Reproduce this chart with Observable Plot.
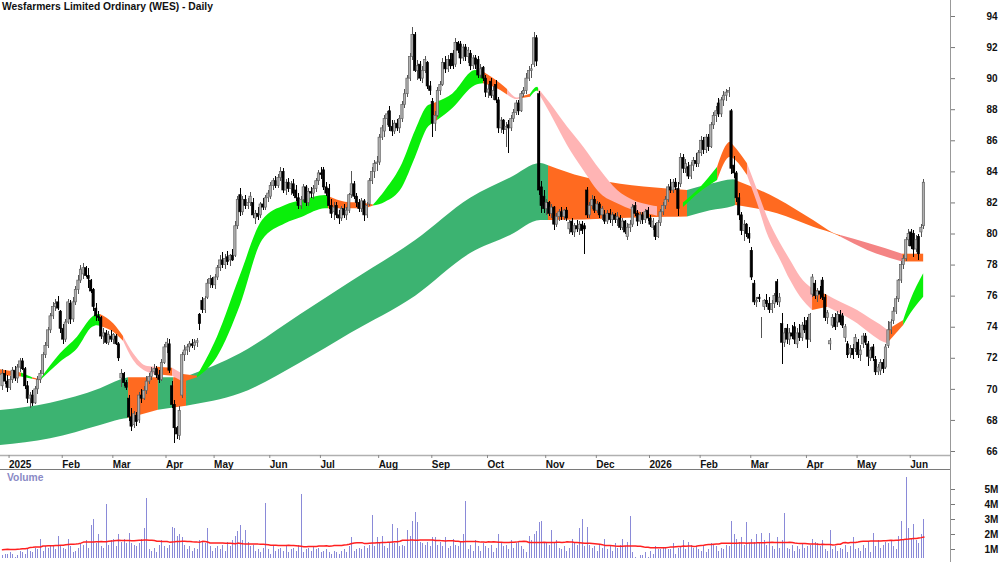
<!DOCTYPE html>
<html><head><meta charset="utf-8">
<script src="https://cdn.jsdelivr.net/npm/d3@7"></script>
<script src="https://cdn.jsdelivr.net/npm/@observablehq/plot@0.6"></script>
<style>
html,body{margin:0;padding:0;background:#fff;}
#wrap{position:relative;width:1000px;height:562px;overflow:hidden;font-family:"Liberation Sans",Arial,sans-serif;}
#wrap svg{display:block;}
#title{position:absolute;left:2px;top:1px;font-weight:bold;font-size:10.3px;color:#111;white-space:nowrap;}
#vlabel{position:absolute;left:7px;top:472px;font-weight:bold;font-size:10.3px;color:#8a8ac6;}
#sep{height:1px;width:951px;background:#7a7a7a;}
#axisline{position:absolute;left:950px;top:0;width:1px;height:562px;background:#999;}
</style></head>
<body>
<div id="wrap">
  <div id="price"></div>
  <div id="sep"></div>
  <div id="vol"></div>
  <div id="title">Wesfarmers Limited Ordinary (WES) - Daily</div>
  <div id="vlabel">Volume</div>
  <div id="axisline"></div>
</div>
<script>
// ---------- DATA ----------
const holidays = ["2025-01-01","2025-01-27","2025-04-18","2025-04-21","2025-04-25","2025-06-09","2025-12-25","2025-12-26","2026-01-01","2026-01-26","2026-04-03","2026-04-06","2026-06-08"];

const open = [
70.2,71.0,70.5,70.1,70.6,71.2,70.7,71.4,71.8,71.3,
70.2,69.4,69.6,69.1,70.0,70.6,71.0,72.2,72.8,73.8,
74.7,75.3,75.6,75.0,73.9,73.2,74.3,75.5,74.5,75.6,
76.4,77.0,77.4,77.8,77.3,77.0,76.4,75.2,74.7,74.6,
73.4,73.6,73.0,73.4,73.2,73.4,72.9,70.7,71.0,70.4,
69.4,68.2,67.7,68.3,68.0,69.6,69.4,69.9,70.5,70.8,
71.1,71.3,70.9,70.6,71.7,72.7,72.9,70.2,69.0,67.5,
67.0,69.6,72.2,72.5,72.7,72.9,72.8,73.0,74.8,75.7,
75.1,75.9,76.8,77.1,76.7,77.2,77.8,78.3,78.0,78.5,
78.3,78.6,78.6,80.5,82.5,81.4,82.2,81.8,82.0,82.0,
81.0,81.3,81.2,81.9,81.7,82.3,82.4,83.1,83.4,83.1,
83.6,84.0,82.8,83.3,82.9,83.2,82.8,82.3,81.8,82.2,
83.0,82.0,82.7,82.6,82.9,83.4,83.9,84.1,83.0,82.9,
81.8,81.4,81.8,81.2,81.0,81.6,81.2,81.5,82.5,83.2,
82.4,82.0,81.6,82.1,81.2,81.9,83.4,84.0,84.5,84.6,
86.2,86.6,87.4,87.9,86.9,86.6,87.1,86.8,87.4,88.3,
89.0,90.0,91.4,92.8,90.5,90.9,90.0,90.5,91.0,89.5,
88.5,87.1,87.6,89.2,89.6,91.0,90.6,91.2,91.6,90.9,
92.3,92.2,91.3,92.0,91.4,91.6,90.8,91.3,91.2,90.2,
90.7,90.0,89.1,89.8,88.9,89.6,88.6,86.8,87.3,86.7,
87.0,86.8,87.4,87.8,88.4,87.9,89.0,89.2,90.0,90.5,
90.9,92.6,89.0,83.0,82.4,81.6,82.0,81.3,81.7,80.6,
81.1,81.4,81.1,81.5,80.3,80.8,80.1,80.5,80.3,80.6,
80.5,82.8,81.2,81.8,82.2,81.5,81.9,81.2,81.2,80.8,
81.3,80.9,81.2,80.9,81.0,80.4,80.8,79.8,80.4,80.6,
81.8,81.3,80.8,81.2,80.9,81.5,81.0,80.4,80.5,79.8,
80.7,81.4,81.8,82.2,83.0,82.8,83.3,82.9,83.2,84.9,
84.2,84.3,83.7,84.4,84.7,84.5,85.2,86.0,85.4,86.2,
85.6,87.0,87.6,88.4,87.7,88.6,88.9,89.1,87.9,84.4,
83.9,82.3,81.2,80.2,80.6,80.0,78.9,76.8,75.6,75.9,
74.0,75.3,75.7,75.5,75.1,75.5,76.9,75.6,74.2,73.0,
73.9,73.2,73.6,74.0,72.9,73.6,73.3,74.1,74.4,73.2,
76.1,76.8,76.0,76.3,77.0,75.9,74.6,72.9,74.1,74.6,
74.3,74.8,74.7,73.3,72.9,72.3,72.6,72.6,73.0,72.2,
72.9,73.4,72.9,72.0,72.7,71.9,71.1,71.2,71.7,71.4,
72.8,73.8,74.4,75.0,75.8,77.0,78.0,78.4,79.6,80.1,
80.0,79.0,79.8,80.1,80.5];

const high = [
71.3,71.2,70.9,70.8,71.4,71.5,71.6,72.0,72.0,71.4,
70.5,69.8,69.9,70.2,70.8,71.2,72.4,73.0,74.0,74.9,
75.6,75.8,76.0,75.1,74.2,74.5,75.8,75.7,75.9,76.6,
77.3,78.0,78.1,77.9,77.8,77.1,76.5,75.5,75.0,74.7,
73.9,73.8,73.7,73.8,73.6,73.5,73.0,71.3,71.1,70.6,
69.6,68.8,68.6,68.5,69.8,70.0,70.2,70.8,71.0,71.4,
71.6,71.5,71.2,71.9,72.9,73.3,73.2,70.5,69.3,67.6,
68.9,72.4,72.8,72.9,73.1,73.2,73.2,73.3,74.9,75.9,
76.0,77.1,77.3,77.2,77.4,78.0,78.6,78.8,78.7,78.9,
78.7,79.0,80.8,82.4,82.9,82.4,82.5,82.3,82.7,82.3,
81.5,81.7,82.0,82.3,82.5,82.8,83.3,83.6,83.7,83.8,
84.3,84.2,83.5,83.6,83.4,83.5,83.1,82.6,82.4,83.2,
83.1,82.9,83.0,83.1,83.6,84.1,84.3,84.3,83.3,83.2,
82.2,82.0,82.0,81.5,81.8,81.9,81.7,82.6,84.0,83.4,
82.6,82.2,82.3,82.2,82.0,83.6,84.3,84.7,85.0,86.4,
87.0,87.6,87.9,88.2,87.3,87.3,87.4,87.6,88.5,89.3,
90.2,91.6,93.3,93.0,91.2,91.1,90.8,91.4,91.1,89.8,
88.7,87.9,89.4,89.8,91.3,91.4,91.5,91.6,91.8,92.6,
92.4,92.4,92.2,92.2,92.0,91.8,91.5,91.5,91.4,90.9,
90.8,90.2,89.6,90.0,89.5,89.9,88.8,87.5,87.4,87.2,
87.3,87.6,88.0,88.6,88.6,89.2,89.4,90.3,90.8,90.9,
93.0,92.8,89.2,83.4,82.8,82.2,82.1,81.9,81.8,81.3,
81.6,81.7,81.6,81.7,80.9,81.0,80.7,80.9,80.8,80.8,
80.7,83.0,82.0,82.5,82.4,82.1,82.0,81.8,81.5,81.5,
81.6,81.4,81.3,81.4,81.2,81.0,80.9,80.7,80.9,81.9,
82.0,81.5,81.4,81.4,81.6,81.7,81.2,81.0,80.7,80.9,
81.6,82.0,82.4,83.2,83.5,83.5,83.6,83.3,85.2,85.1,
84.8,84.6,84.6,84.9,85.2,85.4,86.3,86.2,86.4,86.4,
87.2,87.8,88.2,88.7,88.8,89.2,89.3,89.4,88.0,85.0,
84.0,82.6,81.4,80.9,80.7,80.4,79.1,77.0,75.9,76.1,
74.6,75.8,76.1,75.9,75.7,76.2,77.1,76.2,74.9,73.9,
74.2,73.9,74.1,74.3,73.9,74.2,74.3,74.6,74.6,74.9,
77.4,77.0,76.5,76.6,77.2,76.1,75.1,73.3,74.8,74.9,
75.0,75.1,74.9,74.2,73.1,72.8,72.9,73.5,73.2,72.8,
73.6,73.6,73.1,72.7,72.9,72.1,71.6,71.9,71.9,72.9,
74.4,74.5,75.3,76.0,77.1,78.2,78.6,79.8,80.3,80.3,
80.2,79.9,80.0,80.6,83.5];

const low = [
69.9,70.3,69.8,69.9,70.4,70.5,70.4,71.1,71.2,70.0,
69.1,68.8,68.9,69.0,69.7,70.4,70.9,72.0,72.6,73.6,
74.5,75.0,75.1,73.6,72.9,73.0,74.2,74.2,74.3,75.4,
76.1,76.8,77.1,77.2,76.5,76.2,75.0,74.4,74.4,73.2,
72.9,72.9,72.8,73.0,72.9,72.8,71.8,70.1,70.2,69.9,
67.9,67.3,67.5,67.6,67.8,69.1,69.3,69.7,70.3,70.6,
70.9,70.7,70.4,70.5,71.6,72.3,71.0,68.8,66.5,66.8,
66.7,69.4,71.8,72.2,72.4,72.6,72.5,72.7,73.8,74.9,
74.9,75.8,76.5,76.5,76.4,77.0,77.6,77.8,77.7,78.0,
77.9,78.2,78.5,80.3,81.1,81.2,81.6,81.6,81.8,81.0,
80.6,80.9,81.0,81.5,81.5,82.0,82.2,82.8,82.9,82.9,
83.4,82.6,82.5,82.7,82.5,82.4,82.1,81.6,81.6,82.0,
81.8,81.8,82.3,82.2,82.7,83.1,83.5,82.8,82.4,81.6,
81.0,80.9,81.0,80.6,80.8,81.0,80.9,81.3,82.3,82.2,
81.7,81.4,81.4,80.8,81.0,81.8,83.2,83.6,84.0,84.4,
86.0,86.2,87.0,86.6,86.3,86.4,86.6,86.5,87.2,88.1,
88.8,89.8,91.2,90.4,89.9,89.8,89.7,90.3,89.3,88.9,
86.2,86.6,87.5,88.9,89.5,90.3,90.4,90.6,90.6,90.7,
91.6,90.9,91.1,91.1,91.0,90.5,90.6,90.6,90.0,90.0,
89.8,88.8,88.7,88.7,88.6,88.4,86.5,86.5,86.4,85.6,
85.2,86.6,87.2,87.6,87.6,87.8,88.8,89.0,89.8,90.0,
90.7,90.8,82.5,81.3,81.3,81.2,81.1,81.0,80.2,80.4,
80.8,80.9,80.9,80.8,80.0,79.9,79.8,80.1,79.9,80.0,
78.7,81.0,81.0,81.6,81.3,81.3,81.0,80.9,80.6,80.6,
80.7,80.5,80.7,80.5,80.2,80.2,80.0,79.6,80.1,80.4,
81.1,80.5,80.6,80.6,80.7,80.8,80.4,80.2,79.6,79.7,
80.5,81.2,81.6,82.0,82.6,82.6,82.8,81.1,83.0,83.9,
83.9,83.5,83.5,84.0,84.3,84.3,85.0,85.1,85.2,85.3,
85.5,86.7,87.2,87.5,87.5,88.2,88.5,88.8,83.8,83.6,
82.0,80.9,79.9,79.5,79.8,79.4,77.0,75.4,75.3,75.6,
73.3,75.1,75.3,74.9,74.9,75.2,75.4,75.3,71.6,72.7,
72.9,72.8,73.2,72.9,72.6,73.1,73.1,73.6,72.6,73.0,
75.9,75.8,75.6,75.8,75.7,74.4,74.2,72.5,73.9,73.8,
74.0,74.1,73.9,73.0,72.0,72.0,71.9,72.4,72.0,71.8,
72.6,72.8,71.5,71.8,71.8,70.9,70.9,70.9,71.0,71.3,
72.6,73.5,74.2,74.8,75.6,76.8,77.7,78.2,79.2,79.0,
78.5,78.8,78.3,79.8,80.3];

const close = [
71.0,70.5,70.1,70.6,71.2,70.7,71.4,71.8,71.3,70.2,
69.4,69.6,69.1,70.0,70.6,71.0,72.2,72.8,73.8,74.7,
75.3,75.5,75.2,73.9,73.2,74.3,75.6,74.5,75.6,76.4,
77.0,77.7,77.8,77.3,77.1,76.3,75.3,74.7,74.6,73.4,
73.6,73.0,73.5,73.2,73.5,72.9,72.0,71.0,70.4,70.1,
68.2,67.6,68.4,67.9,69.6,69.4,69.9,70.5,70.8,71.1,
71.3,70.9,70.6,71.7,72.7,73.0,71.2,69.0,67.5,67.1,
68.6,72.2,72.5,72.7,72.9,72.8,73.0,73.1,74.2,75.1,
75.8,76.8,77.1,76.7,77.2,77.8,78.3,78.0,78.4,78.2,
78.6,78.3,80.5,82.2,81.4,82.2,81.8,82.0,82.4,81.2,
81.3,81.1,81.9,81.7,82.3,82.6,83.1,83.4,83.1,83.6,
84.0,82.8,83.3,82.9,83.2,82.6,82.3,81.8,82.2,83.0,
82.0,82.7,82.6,82.9,83.4,83.9,83.8,83.0,82.6,81.8,
81.3,81.7,81.2,81.0,81.6,81.2,81.5,82.5,83.2,82.4,
82.0,81.6,82.1,81.2,81.8,83.4,84.0,84.5,84.6,86.2,
86.8,87.4,87.7,86.9,86.6,87.1,86.8,87.4,88.3,89.0,
90.0,91.4,92.8,90.5,90.8,90.0,90.5,91.2,89.5,89.2,
87.1,87.6,89.2,89.6,91.0,90.6,91.2,90.8,90.8,92.3,
91.8,91.3,92.0,91.4,91.8,90.8,91.3,90.9,90.2,90.6,
90.0,89.1,89.3,88.9,89.2,88.6,86.8,87.3,86.7,86.9,
86.8,87.4,87.8,88.4,87.9,89.0,89.2,90.0,90.5,90.6,
92.6,91.1,82.8,81.8,81.6,82.0,81.3,81.7,80.6,81.1,
81.4,81.1,81.5,81.0,80.7,80.1,80.5,80.3,80.6,80.2,
80.3,81.2,81.8,82.2,81.5,81.9,81.2,81.6,80.8,81.3,
80.9,81.2,80.9,81.1,80.4,80.8,80.1,80.4,80.6,81.7,
81.3,80.8,81.2,80.9,81.4,81.0,80.6,80.8,79.8,80.7,
81.4,81.8,82.2,83.0,82.8,83.3,83.0,81.6,84.9,84.2,
84.5,83.7,84.4,84.7,84.5,85.2,86.0,85.4,86.2,85.6,
87.0,87.6,87.9,87.7,88.6,88.9,89.1,89.2,84.2,83.9,
82.3,81.2,80.2,80.6,80.0,79.7,77.2,75.6,75.7,75.8,
74.0,75.7,75.5,75.1,75.5,76.0,75.6,75.9,73.0,73.6,
73.2,73.6,73.4,73.2,73.6,73.3,74.1,73.8,73.2,74.8,
77.2,76.0,76.3,76.1,75.9,74.6,74.9,73.1,74.6,74.0,
74.8,74.3,74.1,74.0,72.2,72.6,72.2,73.3,72.2,72.5,
73.4,73.0,72.1,72.5,72.0,71.1,71.4,71.7,71.3,72.7,
73.8,74.3,75.0,75.8,77.0,78.0,78.4,79.6,80.0,79.2,
79.0,79.6,78.7,80.4,83.3];

// volume, millions of shares
const volumeM = [
0.6,0.7,0.7,0.8,0.7,0.5,0.6,0.9,0.8,0.7,
1.0,0.9,0.8,1.1,1.0,1.7,0.9,1.2,1.1,1.3,
1.2,1.0,1.9,1.3,1.1,1.0,1.7,1.2,0.8,0.9,
1.1,1.4,1.3,1.6,1.1,2.6,3.0,1.4,2.0,1.2,
1.1,4.0,1.3,1.6,1.7,1.2,2.0,1.5,1.7,1.4,
2.1,1.4,1.3,1.2,1.4,1.7,2.4,4.4,1.0,0.9,
1.1,0.8,1.3,1.6,1.2,1.1,1.3,2.5,2.4,1.9,
2.0,1.8,1.3,1.0,1.2,0.9,1.1,1.0,1.6,1.5,
1.4,2.4,1.2,0.9,1.1,1.2,1.0,1.3,0.9,1.5,
1.2,1.6,1.9,2.2,2.6,1.6,2.3,1.5,1.2,1.3,
0.9,1.0,0.8,1.1,4.1,1.0,0.7,1.2,0.9,1.0,
1.1,0.9,1.2,0.8,1.0,1.1,0.9,1.3,4.7,0.8,
1.0,1.1,0.9,1.2,1.0,1.1,0.8,0.9,1.0,0.8,
0.7,0.9,0.8,0.7,0.9,1.0,0.8,1.2,1.8,0.9,
1.0,1.1,1.0,1.2,1.1,1.3,3.3,1.2,1.8,1.4,
1.9,1.2,1.1,1.5,2.7,1.4,2.4,1.2,1.3,1.2,
2.3,1.9,2.9,3.5,2.8,1.5,1.4,1.3,1.5,1.2,
1.8,1.8,1.3,1.5,1.2,1.8,1.1,1.2,1.7,1.3,
1.2,1.5,2.0,4.2,1.0,1.3,0.9,1.6,1.2,0.9,
1.4,1.2,1.1,1.3,0.8,1.1,2.0,1.4,1.2,1.3,
1.0,1.6,1.1,1.4,1.5,1.2,1.0,0.8,1.9,1.6,
2.0,2.2,2.8,2.9,1.4,1.5,1.3,2.3,1.4,1.6,
1.1,1.0,1.2,0.9,1.1,1.7,1.5,1.3,2.4,3.0,
1.2,2.5,1.3,1.1,1.2,0.9,1.3,1.1,1.7,1.0,
1.2,0.9,1.4,1.1,1.3,1.7,1.2,1.5,3.2,0.8,
0.5,0.4,0.6,0.6,0.8,0.5,0.9,0.7,1.2,1.0,
1.0,1.1,1.1,1.0,1.0,1.4,0.7,1.1,1.2,1.6,
1.0,1.5,1.3,1.1,1.2,1.0,0.9,1.3,0.8,1.0,
1.4,1.3,1.2,0.9,1.1,1.0,1.3,1.2,2.9,2.0,
1.7,1.5,1.8,1.3,2.8,1.4,1.7,1.5,2.0,1.4,
2.1,1.6,1.3,2.1,1.2,1.0,1.8,1.1,1.6,3.4,
1.1,1.0,1.3,0.9,1.2,1.0,1.4,1.1,1.2,1.3,
1.7,1.5,1.4,1.2,1.6,1.0,0.9,2.3,1.0,1.2,
0.9,1.1,1.0,1.3,0.8,1.2,1.8,1.0,1.1,0.9,
1.3,1.1,1.5,0.8,2.1,1.2,1.6,1.1,1.3,1.5,
1.4,1.6,1.2,1.0,1.9,2.9,1.6,5.8,2.4,1.7,
2.7,1.6,1.4,2.0,3.0];

// long-term moving-average band (trading-day index, upper, lower, colour code)
const longIdx = [-0.79,19,38.7,46.6,49.8,61.6,67.6,72.7,94,117.7,137.5,163.2,184.9,200.7,212.6,215.7,229.6,244.2,262.7,270.6,279.7,288.8,289.6,306.2,320.4,329.9,331.1,341.8,355.6,363.9];
const longTop = [68.64,69.11,70.04,70.6,70.74,70.74,70.75,70.8,72.29,74.8,76.9,79.58,82.3,83.6,84.54,84.4,83.65,83.2,82.9,82.8,83.2,83.5,83.44,82.26,80.87,79.95,79.9,79.4,78.7,78.7];
const longBot = [66.39,66.82,67.67,68.05,68.12,68.65,68.8,68.92,69.71,71.7,73.6,76.0,78.74,79.9,80.87,80.87,80.9,81.0,81.08,81.1,81.5,81.77,81.84,81.3,80.44,79.9,79.8,78.94,78.2,78.2];
const longCol = ["S","S","S","S","O","S","O","S","S","S","S","S","S","S","S","O","O","O","O","S","S","S","O","O","O","O","R","R","O","O"];

// short-term moving-average band
const shortIdx = [-0.79,7.5,11.9,15,22.9,29.6,35.6,37.5,38.7,43.9,47.8,51.8,57.3,61.2,67.2,71.5,77,84.9,94,102.7,111.8,118.5,127.6,128.8,135.5,142.2,146.6,151.3,158,163.2,168.3,169.9,171.9,177.8,186.9,190,196.8,199.5,203.5,204.7,208.6,211.4,211.8,216.5,223.2,229.6,236.3,243,249.3,256,258.8,269,275.8,282.5,287.6,288.8,294.3,298.3,302.2,307.4,311.3,315.3,320,326,331.1,337.8,342.9,348.1,349.7,356,358.8,363.9];
const shortTop = [71.26,71.05,70.75,70.62,72.29,73.36,74.64,74.82,74.82,74.22,73.4,72.29,71.47,71.43,71.36,70.95,70.85,73.36,77.33,80.87,81.84,82.16,82.48,82.41,82.05,81.98,81.86,82.8,84.52,86.66,88.27,88.35,88.5,89.0,90.52,90.42,89.67,89.3,88.75,88.8,89.0,89.45,89.35,88.38,86.88,85.59,84.09,82.8,82.16,81.84,81.75,82.0,83.0,84.3,85.9,85.7,84.52,82.8,81.08,79.37,78.3,77.22,76.47,76.04,75.61,75.08,74.54,74.0,73.8,74.43,75.72,77.44];
const shortBot = [70.9,70.8,70.65,70.55,71.75,72.6,74.0,74.1,74.05,73.68,73.1,71.86,71.1,70.94,70.85,70.46,70.75,72.07,75.4,79.58,80.66,81.08,81.62,81.62,81.62,81.62,81.8,82.05,83.0,84.94,86.88,87.1,87.3,88.06,89.56,89.67,89.24,88.95,88.65,88.7,88.8,89.2,89.1,87.74,85.7,84.09,82.59,81.94,81.51,81.26,81.15,81.7,82.7,83.44,84.94,84.84,83.76,81.94,80.0,78.3,77.0,75.93,75.08,75.29,74.86,74.22,73.58,73.03,72.95,74.11,74.86,75.93];
const shortCol = ["O","G","O","G","G","G","G","G","O","O","P","P","P","O","P","O","G","G","G","G","G","G","G","O","O","O","G","G","G","G","G","O","G","G","G","O","O","P","P","O","G","G","P","P","P","P","P","P","P","P","O","G","G","O","O","O","P","P","P","P","P","P","O","P","P","P","P","P","O","G","G","G"];

const priceTicks = [66,68,70,72,74,76,78,80,82,84,86,88,90,92,94];
const volumeTicks = [1e6,2e6,3e6,4e6,5e6];

// ---------- BUILD ----------
const bandColor = {G:"#0aef0a", O:"#ff6a20", P:"#ffb4b4", S:"#3cb371", R:"#f48484"};
const holi = new Set(holidays);
const dates = [];
for (let t = Date.UTC(2024,11,30); t <= Date.UTC(2026,5,10); t += 864e5) {
  const d = new Date(t), wd = d.getUTCDay(), s = d.toISOString().slice(0,10);
  if (wd !== 0 && wd !== 6 && !holi.has(s)) dates.push(d);
}
const N = close.length;
const rows = close.map((c, i) => ({i, o: open[i], h: high[i], l: low[i], c, v: volumeM[i]*1e6, up: c >= open[i]}));

const monthTicks = [], monthLabel = new Map();
for (let k = 1; k < Math.min(dates.length, N); k++) {
  if (dates[k].getUTCMonth() !== dates[k-1].getUTCMonth()) {
    monthTicks.push(k);
    monthLabel.set(k, dates[k].getUTCMonth() === 0 ? String(dates[k].getUTCFullYear()) : d3.utcFormat("%b")(dates[k]));
  }
}

function bandRows(idx, top, bot, col) {
  const out = []; let seg = 0;
  for (let k = 0; k < idx.length; k++) {
    if (k > 0 && col[k] !== col[k-1]) {
      out.push({i: idx[k], top: top[k], bot: bot[k], seg, fill: bandColor[col[k-1]]});
      seg++;
    }
    out.push({i: idx[k], top: top[k], bot: bot[k], seg, fill: bandColor[col[k]]});
  }
  return out;
}
const longRows = bandRows(longIdx, longTop, longBot, longCol);
const shortRows = bandRows(shortIdx, shortTop, shortBot, shortCol);

const xDomain = [-0.79, 374.5];
const font = {fontFamily: "'Liberation Sans', Arial, sans-serif", fontSize: "10px", fontWeight: "bold", background: "transparent", overflow: "visible"};

const price = Plot.plot({
  width: 1000, height: 469,
  marginTop: 0, marginBottom: 14, marginLeft: 0, marginRight: 50,
  x: {domain: xDomain, axis: null},
  y: {domain: [65.743, 95.03], axis: null},
  color: {type: "identity"},
  style: font,
  marks: [
    Plot.areaY(longRows, {x: "i", y1: "bot", y2: "top", z: "seg", fill: "fill", curve: "monotone-x"}),
    Plot.areaY(shortRows, {x: "i", y1: "bot", y2: "top", z: "seg", fill: "fill", curve: "monotone-x"}),
    Plot.ruleX(rows, {x: "i", y1: "l", y2: "h", stroke: d => d.up ? "#555" : "#000", strokeWidth: 1, shapeRendering: "crispEdges"}),
    Plot.rect(rows, {x1: d => d.i - 0.45, x2: d => d.i + 0.45, y1: "o", y2: "c",
      fill: d => d.up ? "#b0b0b0" : "#000", stroke: d => d.up ? "#606060" : "#000", strokeWidth: 0.7}),
    Plot.ruleY([65.743], {stroke: "#b0b0b0", strokeWidth: 1.5}),
    Plot.axisX(monthTicks, {anchor: "bottom", label: null, tickSize: 3, tickPadding: 2, tickFormat: k => monthLabel.get(k),
      textAnchor: "start", dx: 1.5, stroke: "#888", fill: "#111"}),
    Plot.axisY(priceTicks, {anchor: "right", label: null, tickSize: 4, tickPadding: 32, stroke: "#777", fill: "#111"})
  ]
});
document.getElementById("price").appendChild(price);

const vol = Plot.plot({
  width: 1000, height: 88,
  marginTop: 0, marginBottom: 0, marginLeft: 0, marginRight: 50,
  x: {domain: xDomain, axis: null},
  y: {domain: [0.4e6, 6.267e6], axis: null},
  style: font,
  marks: [
    Plot.ruleX(rows, {x: "i", y1: 0, y2: "v", stroke: "#8a8ad8", strokeWidth: 1, clip: true, shapeRendering: "crispEdges"}),
    Plot.lineY(rows, Plot.windowY({k: 50, anchor: "middle", reduce: "mean"}, {x: "i", y: "v", stroke: "#ff2020", strokeWidth: 1.5})),
    Plot.axisY(volumeTicks, {anchor: "right", label: null, tickSize: 4, tickPadding: 30, tickFormat: d => (d/1e6) + "M", stroke: "#777", fill: "#111"})
  ]
});
document.getElementById("vol").appendChild(vol);
</script>
</body></html>
